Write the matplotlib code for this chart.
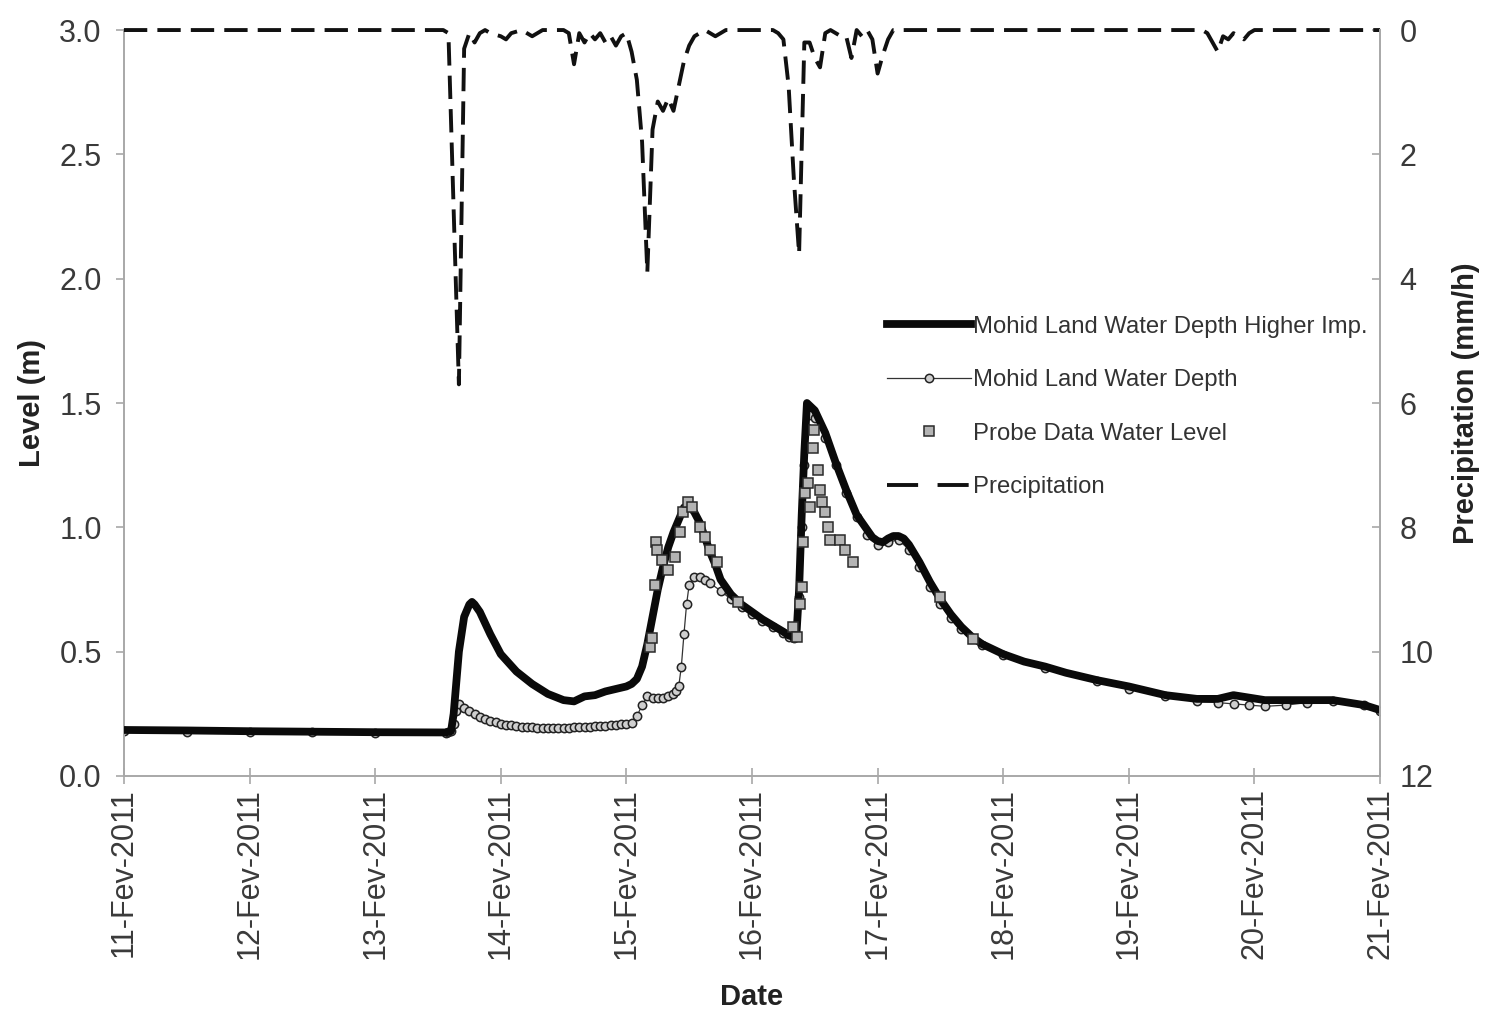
import numpy as np
import pandas as pd
import matplotlib
matplotlib.use('Agg')
import matplotlib.pyplot as plt
import matplotlib.dates as mdates
from matplotlib.lines import Line2D
from matplotlib.ticker import FormatStrFormatter

plt.rcParams['font.family'] = ['Liberation Sans', 'DejaVu Sans']

start = pd.Timestamp('2011-02-11 00:00')

# hours after 11-Feb-2011 00:00 and water level (m), model with higher imperviousness
higher_imp_hours = [0, 12, 24, 36, 48, 61.5, 62.5, 63, 64, 65, 66, 66.5, 67, 68, 70, 72, 75, 78, 81,
                    84, 86, 87, 88, 90, 92, 94, 96, 97, 98, 99, 100, 101, 102, 103, 104, 105, 106,
                    107, 108, 109, 110, 111, 112, 113, 114, 115, 116, 118, 120, 122, 124, 126, 127,
                    128, 128.5, 129, 129.5, 130, 130.5, 131, 132, 134, 136, 138, 140, 142, 143, 144,
                    145, 146, 147, 148, 149, 150, 152, 154, 156, 158, 160, 162, 164, 168, 172, 176,
                    180, 186, 192, 199, 205, 209, 212, 215, 218, 225, 231, 237, 240]
higher_imp_level = [0.185, 0.183, 0.18, 0.178, 0.176, 0.175, 0.18, 0.25, 0.50, 0.64, 0.69, 0.70, 0.69,
                    0.66, 0.57, 0.49, 0.42, 0.37, 0.33, 0.305, 0.30, 0.31, 0.32, 0.325, 0.34, 0.35,
                    0.36, 0.37, 0.39, 0.44, 0.53, 0.64, 0.75, 0.84, 0.92, 0.98, 1.03, 1.08, 1.09,
                    1.06, 1.02, 0.96, 0.90, 0.85, 0.79, 0.76, 0.73, 0.69, 0.66, 0.63, 0.605, 0.58,
                    0.565, 0.56, 0.57, 0.75, 1.05, 1.30, 1.50, 1.49, 1.47, 1.38, 1.26, 1.15, 1.05,
                    0.99, 0.96, 0.945, 0.94, 0.955, 0.965, 0.965, 0.955, 0.93, 0.86, 0.78, 0.71,
                    0.65, 0.60, 0.56, 0.53, 0.49, 0.46, 0.44, 0.415, 0.385, 0.36, 0.325, 0.31, 0.31,
                    0.325, 0.315, 0.305, 0.305, 0.305, 0.285, 0.265]

# model water depth (m)
depth_hours = [0, 12, 24, 36, 48, 61.5, 62, 62.5, 63, 63.5, 64, 65, 66, 67, 68, 69, 70, 71, 72, 73,
               74, 75, 76, 77, 78, 79, 80, 81, 82, 83, 84, 85, 86, 87, 88, 89, 90, 91, 92, 93, 94,
               95, 96, 97, 98, 99, 100, 101, 102, 103, 104, 105, 105.5, 106, 106.5, 107, 107.5,
               108, 109, 110, 111, 112, 114, 116, 118, 120, 122, 124, 126, 127, 128, 128.5, 129,
               129.5, 130, 130.5, 131, 132, 134, 136, 138, 140, 142, 144, 146, 148, 150, 152, 154,
               156, 158, 160, 164, 168, 176, 186, 192, 199, 205, 209, 212, 215, 218, 222, 226,
               231, 237, 240]
depth_level = [0.18, 0.178, 0.176, 0.175, 0.174, 0.173, 0.175, 0.18, 0.21, 0.26, 0.29, 0.275,
               0.26, 0.248, 0.238, 0.23, 0.222, 0.216, 0.21, 0.206, 0.203, 0.20, 0.198, 0.196,
               0.195, 0.194, 0.193, 0.192, 0.192, 0.192, 0.193, 0.194, 0.195, 0.196, 0.197, 0.198,
               0.20, 0.20, 0.202, 0.204, 0.206, 0.208, 0.21, 0.215, 0.24, 0.285, 0.32, 0.315,
               0.315, 0.315, 0.32, 0.33, 0.34, 0.36, 0.44, 0.57, 0.69, 0.77, 0.80, 0.80, 0.79,
               0.775, 0.745, 0.71, 0.68, 0.65, 0.625, 0.60, 0.575, 0.56, 0.555, 0.57, 0.72, 1.00,
               1.25, 1.40, 1.45, 1.44, 1.36, 1.25, 1.14, 1.04, 0.97, 0.93, 0.94, 0.95, 0.91, 0.84,
               0.76, 0.69, 0.635, 0.59, 0.525, 0.485, 0.435, 0.38, 0.35, 0.32, 0.30, 0.295, 0.29,
               0.285, 0.28, 0.285, 0.295, 0.30, 0.285, 0.262]

# probe measurements (m)
probe_hours = [100.5, 100.9, 101.5, 101.6, 101.8, 102.8, 103.9, 105.3, 106.2, 106.8, 107.8, 108.6,
               110.1, 111.0, 112.0, 113.3, 117.3, 127.8, 128.6, 129.2, 129.6, 129.7, 130.2, 130.7,
               131.0, 131.7, 131.8, 132.6, 133.0, 133.4, 133.9, 134.5, 134.9, 136.8, 137.8, 139.3,
               155.9, 162.2]
probe_level = [0.52, 0.555, 0.77, 0.94, 0.91, 0.87, 0.83, 0.88, 0.98, 1.06, 1.10, 1.08, 1.00, 0.96,
               0.91, 0.86, 0.70, 0.60, 0.56, 0.69, 0.76, 0.94, 1.14, 1.18, 1.08, 1.32, 1.39, 1.23,
               1.15, 1.10, 1.06, 1.00, 0.95, 0.95, 0.91, 0.86, 0.72, 0.55]

# hourly precipitation (mm/h)
rain_hours = [0, 61, 62, 63, 64, 65, 66, 67, 68, 69, 70, 72, 73, 74, 76, 78, 79, 80, 84, 85, 86,
              87, 88, 89, 90, 91, 92, 93, 94, 95, 96, 97, 98, 99, 100, 101, 102, 103, 104, 105,
              106, 107, 108, 109, 110, 111, 112, 113, 114, 115, 124, 125, 126, 127, 128, 129, 130,
              131, 132, 133, 134, 135, 136, 137, 138, 139, 140, 141, 142, 143, 144, 145, 146, 147,
              206, 207, 208, 209, 210, 211, 212, 213, 214, 215, 216, 240]
rain_mm = [0, 0, 0.05, 2.9, 5.7, 0.3, 0.05, 0.2, 0.05, 0, 0.05, 0.1, 0.15, 0.05, 0, 0.1, 0.05, 0,
           0, 0.05, 0.55, 0.05, 0.2, 0.05, 0.15, 0.05, 0.2, 0.1, 0.25, 0.1, 0.05, 0.35, 0.8, 1.8,
           3.9, 1.6, 1.15, 1.3, 1.1, 1.3, 0.9, 0.5, 0.25, 0.1, 0.05, 0, 0.05, 0.1, 0.05, 0,
           0, 0.05, 0.15, 0.9, 2.4, 3.6, 0.2, 0.2, 0.45, 0.6, 0.05, 0, 0.05, 0.1, 0.1, 0.45, 0,
           0.1, 0, 0.15, 0.7, 0.4, 0.15, 0,
           0, 0.05, 0.2, 0.35, 0.1, 0.15, 0.05, 0.1, 0.15, 0.05, 0, 0]


def to_time(hours):
    return start + pd.to_timedelta(np.asarray(hours, dtype=float), unit='h')


fig = plt.figure(figsize=(14.86, 10.15), dpi=100)
ax = fig.add_axes([0.0834, 0.2355, 0.8453, 0.7349])
ax2 = ax.twinx()

# thin series sits under the thick one, probe squares on top
ax.plot(to_time(depth_hours), depth_level, color='#333333', lw=0.9, marker='o', ms=6,
        mfc='#cfcfcf', mec='#222222', mew=1.1, zorder=2)
ax.plot(to_time(higher_imp_hours), higher_imp_level, color='#0a0a0a', lw=5.6, zorder=3,
        solid_joinstyle='round')
ax.plot(to_time(probe_hours), probe_level, ls='none', marker='s', ms=7.5, mfc='#b4b4b4',
        mec='#2a2a2a', mew=1.1, zorder=4)

ax2.plot(to_time(rain_hours), rain_mm, color='#111111', lw=2.8, dashes=(6, 2.6), clip_on=False)

spine_col = '#a8a8a8'
ax.set_xlim(start, start + pd.Timedelta(days=10))
ax.set_ylim(0, 3)
ax.set_yticks(np.arange(0, 3.01, 0.5))
ax.yaxis.set_major_formatter(FormatStrFormatter('%.1f'))
ax2.set_ylim(12, 0)
ax2.set_yticks(np.arange(0, 13, 2))

ax.xaxis.set_major_locator(mdates.DayLocator())
ax.xaxis.set_major_formatter(mdates.DateFormatter('%d-Fev-%Y'))

for a in (ax, ax2):
    a.spines['top'].set_visible(False)
    for s in ('left', 'right', 'bottom'):
        a.spines[s].set_color(spine_col)
        a.spines[s].set_linewidth(1.4)
ax.spines['right'].set_visible(False)
ax2.spines['left'].set_visible(False)
ax2.spines['bottom'].set_visible(False)

ax.tick_params(axis='x', direction='inout', length=12, width=1.2, color=spine_col,
               labelsize=22, labelcolor='#3a3a3a', pad=3, labelrotation=90)
ax.tick_params(axis='y', direction='out', length=6, width=1.2, color=spine_col,
               labelsize=22, labelcolor='#3a3a3a', pad=10)
ax2.tick_params(axis='y', direction='in', length=6, width=1.2, color=spine_col,
                labelsize=22, labelcolor='#3a3a3a', pad=14)

ax.set_xlabel('Date', fontsize=21, fontweight='bold', color='#222222')
ax.xaxis.set_label_coords(0.5, -0.277)
ax.set_ylabel('Level (m)', fontsize=21, fontweight='bold', color='#222222')
ax.yaxis.set_label_coords(-0.062, 0.5)
ax2.set_ylabel('Precipitation (mm/h)', fontsize=21, fontweight='bold', color='#222222')
ax2.yaxis.set_label_coords(1.057, 0.5)

handles = [
    Line2D([], [], color='#0a0a0a', lw=5.6),
    Line2D([], [], color='#333333', lw=0.9, marker='o', ms=6, mfc='#cfcfcf',
           mec='#222222', mew=1.1),
    Line2D([], [], ls='none', marker='s', ms=7.5, mfc='#b4b4b4', mec='#2a2a2a', mew=1.1),
    Line2D([], [], color='#111111', lw=2.8, dashes=(8, 5)),
]
labels = ['Mohid Land Water Depth Higher Imp.', 'Mohid Land Water Depth',
          'Probe Data Water Level', 'Precipitation']
ax2.legend(handles, labels, loc='center left', bbox_to_anchor=(887 / 1486, 1 - 407 / 1015),
           bbox_transform=fig.transFigure, frameon=False, fontsize=17.2, labelcolor='#333333',
           handlelength=3.5, handletextpad=0.12, labelspacing=1.32, borderpad=0,
           borderaxespad=0)

fig.savefig('out.png', dpi=100, facecolor='white')
